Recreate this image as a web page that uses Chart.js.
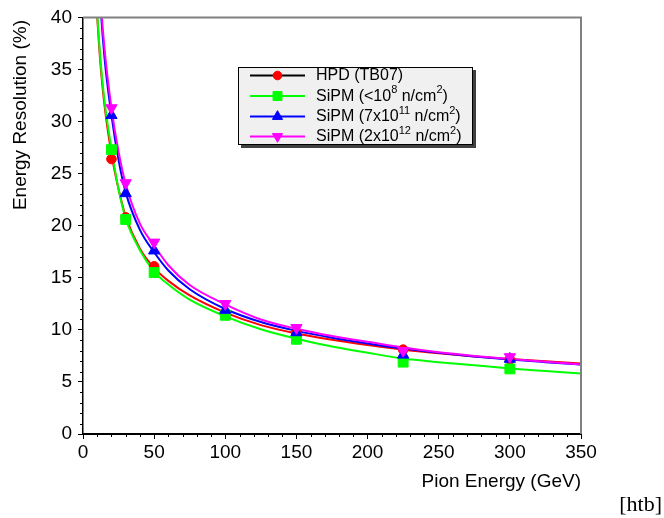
<!DOCTYPE html>
<html><head><meta charset="utf-8">
<script src="https://cdn.jsdelivr.net/npm/chart.js@4/dist/chart.umd.min.js"></script>
<style>html,body{margin:0;padding:0;background:#fff;}canvas{display:block;}</style>
</head><body>
<canvas id="c" width="664" height="518"></canvas>
<script>
// measured points
const energies = [20, 30, 50, 100, 150, 225, 300];
const hpdTB07 = [26.4, 20.8, 16.1, 11.5, 9.7, 8.1, 7.15];
const sipmLow = [27.3, 20.6, 15.5, 11.4, 9.1, 6.9, 6.25];
const sipm7e11 = [30.6, 23.1, 17.6, 11.9, 9.75, 7.6, 7.2];
const sipm2e12 = [31.3, 24.1, 18.4, 12.5, 10.2, 8.0, 7.4];
// fitted curves
const fitEnergies = [10, 12, 15, 20, 25, 30, 40, 50, 60, 75, 100, 125, 150, 175, 200, 225, 250, 275, 300, 325, 350];
const fitHpd   = [40.0, 36.0, 31.7, 26.9, 23.5, 20.9, 17.8, 15.95, 14.7, 13.3, 11.65, 10.45, 9.65, 9.05, 8.55, 8.1, 7.75, 7.45, 7.2, 6.98, 6.78];
const fitLow   = [40.3, 36.4, 32.1, 27.4, 23.5, 20.7, 17.65, 15.6, 14.35, 12.9, 11.3, 10.06, 9.15, 8.4, 7.8, 7.25, 6.9, 6.6, 6.3, 6.05, 5.8];
const fit7e11  = [48.5, 42.0, 36.3, 30.6, 26.3, 23.2, 19.6, 17.45, 15.7, 13.9, 12.0, 10.75, 9.9, 9.25, 8.7, 8.2, 7.8, 7.45, 7.15, 6.9, 6.67];
const fit2e12  = [49.5, 42.7, 37.2, 31.3, 27.1, 24.0, 20.2, 18.1, 16.2, 14.3, 12.45, 11.0, 10.1, 9.4, 8.85, 8.3, 7.85, 7.5, 7.2, 6.93, 6.68];
const seriesNames = ['HPD (TB07)', 'SiPM (<10^8 n/cm^2)', 'SiPM (7x10^11 n/cm^2)', 'SiPM (2x10^12 n/cm^2)'];
const xTicks = [0, 50, 100, 150, 200, 250, 300, 350];
const yTicks = [0, 5, 10, 15, 20, 25, 30, 35, 40];
const xTitle = 'Pion Energy (GeV)';
const yTitle = 'Energy Resolution (%)';
const cornerNote = '[htb]';

const FONT = "'Liberation Sans', Arial, sans-serif";
const colors = ['#ff0000', '#00ff00', '#0000ff', '#ff00ff'];
const legendLineColors = ['#000000', '#00ff00', '#0000ff', '#ff00ff'];
const styles = [
  {pointStyle: 'circle', radius: 4.8, rotation: 0},
  {pointStyle: 'rect', radius: 7, rotation: 0},
  {pointStyle: 'triangle', radius: 6.5, rotation: 0},
  {pointStyle: 'triangle', radius: 6.5, rotation: 180}
];
const pointsData = [hpdTB07, sipmLow, sipm7e11, sipm2e12];
const fitData = [fitHpd, fitLow, fit7e11, fit2e12];

const datasets = [];
fitData.forEach((arr, i) => {
  datasets.push({
    type: 'line', data: fitEnergies.map((x, k) => ({x, y: arr[k]})),
    borderColor: colors[i], borderWidth: 2, pointRadius: 0, fill: false,
    cubicInterpolationMode: 'monotone', order: 20 - i
  });
});
pointsData.forEach((arr, i) => {
  datasets.push({
    type: 'line', showLine: false, data: energies.map((x, k) => ({x, y: arr[k]})),
    backgroundColor: colors[i], borderColor: colors[i], borderWidth: 1,
    pointStyle: styles[i].pointStyle, pointRadius: styles[i].radius, pointRotation: styles[i].rotation,
    order: 10 - i
  });
});

function drawRich(ctx, text, x, y, size) {
  const parts = text.split(/\^(\d+)/);
  let cx = x;
  parts.forEach((p, idx) => {
    if (!p) return;
    if (idx % 2 === 1) {
      ctx.font = Math.round(size * 0.66) + 'px ' + FONT;
      ctx.fillText(p, cx, y - size * 0.38);
    } else {
      ctx.font = size + 'px ' + FONT;
      ctx.fillText(p, cx, y);
    }
    cx += ctx.measureText(p).width;
  });
}

const decor = {
  id: 'decor',
  afterDraw(chart) {
    const ctx = chart.ctx;
    const a = chart.chartArea;
    const xs = chart.scales.x, ys = chart.scales.y;
    ctx.save();
    // gray frame top & right
    ctx.strokeStyle = '#808080'; ctx.lineWidth = 2;
    ctx.beginPath(); ctx.moveTo(a.left, a.top); ctx.lineTo(a.right, a.top); ctx.lineTo(a.right, a.bottom); ctx.stroke();
    // minor ticks
    ctx.strokeStyle = '#000'; ctx.lineWidth = 1;
    ctx.beginPath();
    for (let v = 0; v <= 40; v++) {
      if (v % 5 === 0) continue;
      const py = Math.round(ys.getPixelForValue(v)) + 0.5;
      ctx.moveTo(a.left - 3, py); ctx.lineTo(a.left, py);
    }
    for (let v = 0; v <= 350; v += 10) {
      if (v % 50 === 0) continue;
      const px = Math.round(xs.getPixelForValue(v)) + 0.5;
      ctx.moveTo(px, a.bottom); ctx.lineTo(px, a.bottom + 3);
    }
    ctx.stroke();
    // axis titles
    ctx.fillStyle = '#000';
    ctx.font = '19px ' + FONT;
    ctx.textBaseline = 'middle';
    ctx.textAlign = 'right';
    ctx.fillText(xTitle, a.right, 482);
    ctx.save();
    ctx.translate(21, 20); ctx.rotate(-Math.PI / 2);
    ctx.textAlign = 'right';
    ctx.fillText(yTitle, 0, 0);
    ctx.restore();
    ctx.font = "22px 'Liberation Serif', 'Times New Roman', serif";
    ctx.textAlign = 'right'; ctx.textBaseline = 'alphabetic';
    ctx.fillText(cornerNote, 662, 511);
    // legend
    const L = 238, T = 67, W = 235, H = 78;
    ctx.fillStyle = '#404040';
    ctx.fillRect(L + 3, T + 3, W, H);
    ctx.fillStyle = '#f0f0f0';
    ctx.fillRect(L, T, W, H);
    ctx.strokeStyle = '#000'; ctx.lineWidth = 1;
    ctx.strokeRect(L + 0.5, T + 0.5, W - 1, H - 1);
    const rowY = [75.5, 96, 116.5, 136.5];
    seriesNames.forEach((name, i) => {
      const y = rowY[i];
      ctx.strokeStyle = legendLineColors[i]; ctx.lineWidth = 2;
      ctx.beginPath(); ctx.moveTo(250, y); ctx.lineTo(305, y); ctx.stroke();
      ctx.fillStyle = colors[i]; ctx.strokeStyle = colors[i]; ctx.lineWidth = 1;
      Chart.helpers.drawPoint(ctx, {pointStyle: styles[i].pointStyle, radius: styles[i].radius * 0.9, rotation: styles[i].rotation, borderWidth: 1}, 277.5, y);
      ctx.fillStyle = '#000';
      ctx.textAlign = 'left'; ctx.textBaseline = 'middle';
      drawRich(ctx, name, 316, y + 0.5, 16);
    });
    ctx.restore();
  }
};

new Chart(document.getElementById('c'), {
  data: {datasets},
  options: {
    responsive: false, devicePixelRatio: 1, animation: false, events: [],
    layout: {padding: {left: 0, top: 14, right: 83, bottom: 0}},
    plugins: {legend: {display: false}, tooltip: {enabled: false}},
    scales: {
      x: {
        type: 'linear', min: 0, max: 350,
        afterFit(s) { s.height = 84; },
        afterBuildTicks(s) { s.ticks = xTicks.map(v => ({value: v})); },
        ticks: {color: '#000', font: {family: FONT, size: 19}, padding: 2, maxRotation: 0, autoSkip: false},
        grid: {drawOnChartArea: false, drawTicks: true, tickLength: 5, color: '#000', lineWidth: 1},
        border: {display: true, color: '#000', width: 2}
      },
      y: {
        type: 'linear', min: 0, max: 40,
        afterFit(s) { s.width = 83; },
        afterBuildTicks(s) { s.ticks = yTicks.map(v => ({value: v})); },
        ticks: {color: '#000', font: {family: FONT, size: 19}, padding: 6, autoSkip: false},
        grid: {drawOnChartArea: false, drawTicks: true, tickLength: 5, color: '#000', lineWidth: 1},
        border: {display: true, color: '#000', width: 1.5}
      }
    }
  },
  plugins: [decor]
});
</script>
</body></html>
